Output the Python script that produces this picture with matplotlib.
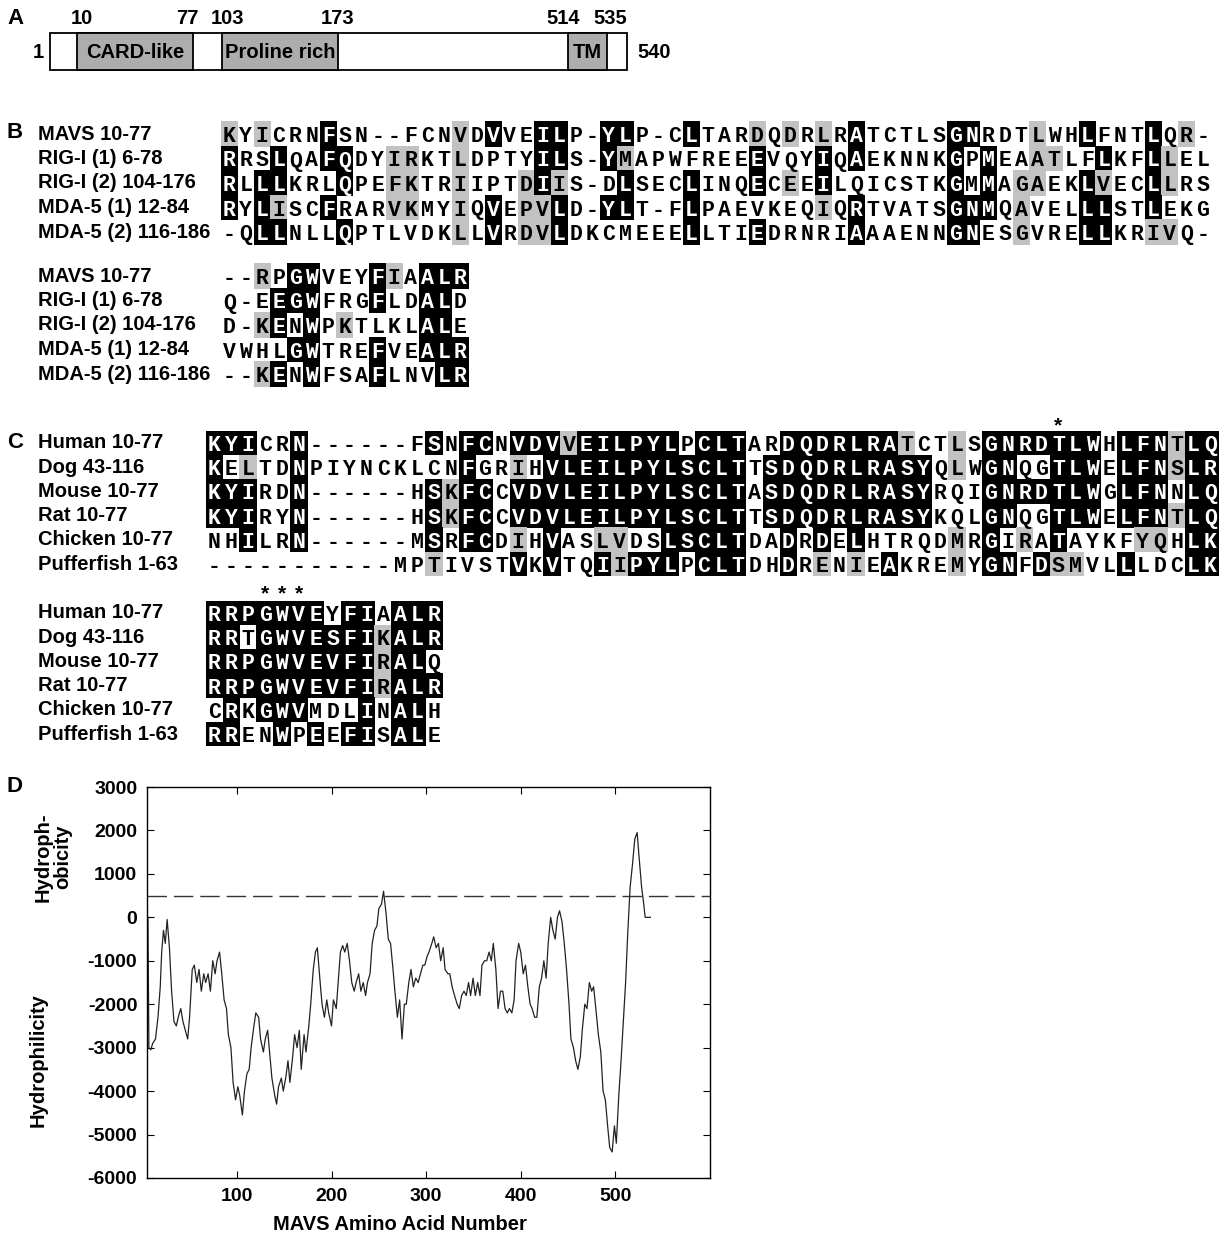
import numpy as np
import matplotlib.pyplot as plt
from matplotlib.patches import Rectangle

plt.rcParams['font.family'] = ['Liberation Sans', 'DejaVu Sans']
plt.rcParams['font.weight'] = 'bold'
plt.rcParams['axes.unicode_minus'] = False

# ---------------- data ----------------
# panel A: MAVS domain map
mavs_len = 540
dom_names = ['CARD-like', 'Proline rich', 'TM']
dom_start = [10, 103, 514]
dom_end = [77, 173, 535]

# panel B: MAVS vs RIG-I / MDA-5 CARDs
b_names = ['MAVS 10-77', 'RIG-I (1) 6-78', 'RIG-I (2) 104-176',
           'MDA-5 (1) 12-84', 'MDA-5 (2) 116-186']
b_seq1 = ['KYICRNFSN--FCNVDVVEILP-YLP-CLTARDQDRLRATCTLSGNRDTLWHLFNTLQR-',
          'RRSLQAFQDYIRKTLDPTYILS-YMAPWFREEEVQYIQAEKNNKGPMEAATLFLKFLLEL',
          'RLLLKRLQPEFKTRIIPTDIIS-DLSECLINQECEEILQICSTKGMMAGAEKLVECLLRS',
          'RYLISCFRARVKMYIQVEPVLD-YLT-FLPAEVKEQIQRTVATSGNMQAVELLLSTLEKG',
          '-QLLNLLQPTLVDKLLVRDVLDKCMEEELLTIEDRNRIAAAENNGNESGVRELLKRIVQ-']
# k = identical (black), g = similar (grey), . = none
b_shade1 = ['g.g...k.......g.k..kk..kk...k...g.g.g.k.....kk...g..k...k.g.',
            'k..k..kk..gg..g....kk..kg.......k...k.k.....k.k..gg..k..kg..',
            'k.kk...k..gg..g...gkg...k...k...k.g.k.......k.k.gg..kg..kg..',
            'k.kg..k...gg..g.k.ggk..kk...k.......g.k.....kkk.g...kk..k...',
            '..kk...k......g.k.ggk.......k...k.....k.....kk..g...kk..gg..']
b_seq2 = ['--RPGWVEYFIAALR',
          'Q-EEGWFRGFLDALD',
          'D-KENWPKTLKLALE',
          'VWHLGWTREFVEALR',
          '--KENWFSAFLNVLR']
b_shade2 = ['..g.kk...kg.kkk',
            '...kkk...k..kk.',
            '..gk.k.g....kk.',
            '....kk...k..kkk',
            '..gk.k...k...kk']

# panel C: MAVS orthologues
c_names = ['Human 10-77', 'Dog 43-116', 'Mouse 10-77', 'Rat 10-77',
           'Chicken 10-77', 'Pufferfish 1-63']
c_seq1 = ['KYICRN------FSNFCNVDVVEILPYLPCLTARDQDRLRATCTLSGNRDTLWHLFNTLQ',
          'KELTDNPIYNCKLCNFGRIHVLEILPYLSCLTTSDQDRLRASYQLWGNQGTLWELFNSLR',
          'KYIRDN------HSKFCCVDVLEILPYLSCLTASDQDRLRASYRQIGNRDTLWGLFNNLQ',
          'KYIRYN------HSKFCCVDVLEILPYLSCLTTSDQDRLRASYKQLGNQGTLWELFNTLQ',
          'NHILRN------MSRFCDIHVASLVDSLSCLTDADRDELHTRQDMRGIRATAYKFYQHLK',
          '-----------MPTIVSTVKVTQIIPYLPCLTDHDRENIEAKREMYGNFDSMVLLLDCLK']
c_shade1 = ['kkk..k.......k.kk.kkkgkkkkkk.kkk..kkkkkkkg..g.kkkkkkk.kkkgkk',
            'k.g..k.........k..g.kkkkkkkkkkkk.kkkkkkkkkk.g.kk..kkk.kkkgkk',
            'kkk..k.......kgkk.kkkkkkkkkkkkkk.kkkkkkkkkk...kkkkkkk.kkk.kk',
            'kkk..k.......kgkk.kkkkkkkkkkkkkk.kkkkkkkkkk...kk..kkk.kkkgkk',
            '..k..k.......k.kk.g.k..gg..kkkkk..k.k.k.....g.k.g.k....gg.kk',
            '.............g....k.k..kgkkk.kkk..k.g.g.k...g.kk.kgg..k...kk']
c_seq2 = ['RRPGWVEYFIAALR',
          'RRTGWVESFIKALR',
          'RRPGWVEVFIRALQ',
          'RRPGWVEVFIRALR',
          'CRKGWVMDLINALH',
          'RRENWPEEFISALE']
c_shade2 = ['kkkkkkk.kk.kkk',
            'kk.kkkkkkkgkkk',
            'kkkkkkkkkkgkk.',
            'kkkkkkkkkkgkkk',
            '.k.kkk...k.kk.',
            'kk..k.k.kk.kk.']
c_star1 = [50]
c_star2 = [3, 4, 5]

# panel D: hydropathy plot
aa_pos = [6, 7, 9, 11, 14, 16.6, 19, 20.5, 22.4, 24.3, 26.3, 28.7, 31, 33.5, 36, 38,
          40.7, 43, 45.5, 48, 50, 52.8, 55, 57.6, 60, 62.4, 65, 67, 69.6, 72, 74.5,
          77, 79, 81.7, 84, 86.5, 89, 91, 93.7, 96, 98.6, 101, 103, 105.8, 108,
          110.6, 113, 115, 118, 120, 123, 125, 128, 130, 132.5, 135, 137, 140, 142,
          144, 147, 149, 151.6, 154, 156, 159, 161, 163.6, 166, 168, 171, 173, 176,
          178, 180.7, 183, 185, 188, 190, 192.5, 195, 197, 200, 202, 205, 207,
          209.4, 211.8, 214, 216.6, 219, 221.4, 224, 226, 228.7, 231, 233.5, 236,
          238, 240.7, 243, 245.5, 248, 250, 252.8, 255, 257.6, 260, 262.4, 265,
          267, 269.6, 272, 274.5, 277, 279, 281.7, 284, 286.5, 289, 291.6, 294,
          296.6, 298.6, 301, 303, 306, 308, 310.6, 313, 315.4, 318, 320, 323, 325,
          327.5, 330, 332.8, 335, 337.5, 340, 342.4, 344.8, 347, 349.6, 352, 354.5,
          356.9, 359, 361.7, 364, 366.5, 368.9, 371, 373.7, 376, 378.6, 381, 383.4,
          385.8, 388, 390.6, 393, 395, 397.8, 400, 402.6, 405, 407.5, 409.9, 412,
          414.7, 417, 419.6, 422, 424.4, 426.8, 429, 431.6, 434, 436.4, 438.8, 441,
          443.6, 446, 448.4, 451, 453, 455.7, 458, 460.4, 463, 465, 467.7, 470,
          472.5, 474.9, 477, 479.8, 482, 484.6, 487, 489.4, 491.8, 494, 496.6, 499,
          501, 503.6, 506, 508.4, 510.8, 513, 515.6, 518, 520.5, 523, 525, 527.7,
          530, 531.5, 537]
hydro = [0, -3000, -3050, -2900, -2800, -2300, -1600, -800, -300, -600, -50, -700,
         -1700, -2400, -2500, -2300, -2100, -2400, -2600, -2800, -2300, -1200, -1100,
         -1500, -1200, -1700, -1300, -1500, -1300, -1700, -1000, -1300, -1000, -800,
         -1300, -1900, -2100, -2700, -3000, -3800, -4200, -3900, -4100, -4550, -4000,
         -3600, -3500, -3000, -2500, -2200, -2300, -2800, -3100, -2800, -2600, -3200,
         -3700, -4100, -4300, -3900, -3700, -4000, -3700, -3300, -3800, -3200, -2700,
         -3000, -2600, -3500, -2700, -3100, -2500, -2000, -1200, -800, -700, -1500,
         -2000, -2300, -1900, -2200, -2500, -1900, -2100, -1500, -800, -650, -800,
         -600, -1000, -1500, -1700, -1500, -1300, -1700, -1500, -1800, -1500, -1300,
         -600, -300, -200, 200, 300, 600, 100, -500, -600, -1200, -1700, -2300, -1900,
         -2800, -2000, -2000, -1500, -1200, -1600, -1400, -1500, -1300, -1100, -1100,
         -900, -800, -600, -450, -700, -600, -1000, -700, -1200, -1300, -1300, -1600,
         -1800, -2000, -2100, -1800, -1700, -1800, -1500, -1800, -1400, -1800, -1500,
         -1800, -1100, -1000, -1000, -800, -1000, -600, -1200, -2100, -1700, -1700,
         -2100, -2200, -2100, -2200, -1900, -1000, -600, -800, -1300, -1100, -1600,
         -2000, -2100, -2300, -2300, -1600, -1400, -1000, -1400, -600, 0, -300, -500,
         0, 150, -100, -600, -1200, -2000, -2800, -3000, -3300, -3500, -3200, -2600,
         -2000, -2100, -1500, -1700, -1600, -2200, -2700, -3100, -4000, -4200, -4800,
         -5300, -5400, -4800, -5200, -4100, -3300, -2400, -1500, -400, 700, 1200, 1800,
         1950, 1400, 700, 300, 0, 0]
threshold = 500

# ---------------- figure ----------------
W, H = 1232, 1235
fig = plt.figure(figsize=(W / 100, H / 100), dpi=100)
ax = fig.add_axes([0, 0, 1, 1])
ax.set_xlim(0, W)
ax.set_ylim(H, 0)
ax.axis('off')

GREY = '#c2c2c2'
LAB = 14.5
SEQ = dict(family='Liberation Mono', fontsize=15.5, fontweight='bold',
           ha='center', va='center_baseline')


def panel_letter(x, y, s):
    ax.text(x, y, s, fontsize=16, ha='center', va='center')


# ---- A ----
panel_letter(15, 18, 'A')
# schematic, not to scale: anchor residues -> drawing x
anchor_aa = [1, 10, 77, 103, 173, 514, 535, 540]
anchor_px = [50, 77, 193, 222, 338, 568, 607, 627]


def aa_x(a):
    return np.interp(a, anchor_aa, anchor_px)


ax.add_patch(Rectangle((aa_x(1), 33), aa_x(mavs_len) - aa_x(1), 37,
                       fc='white', ec='black', lw=1.3))
start_shift = [5, 5, -5]
end_shift = [-6, 0, 3]
for name, s, e, ds, de in zip(dom_names, dom_start, dom_end, start_shift, end_shift):
    ax.add_patch(Rectangle((aa_x(s), 33), aa_x(e) - aa_x(s), 37,
                           fc='#adadad', ec='black', lw=1.3))
    ax.text((aa_x(s) + aa_x(e)) / 2, 52, name, fontsize=LAB, ha='center', va='center')
    ax.text(aa_x(s) + ds, 18, str(s), fontsize=LAB, ha='center', va='center')
    ax.text(aa_x(e) + de, 18, str(e), fontsize=LAB, ha='center', va='center')
ax.text(aa_x(1) - 12, 52, '1', fontsize=LAB, ha='center', va='center')
ax.text(aa_x(mavs_len) + 10, 52, str(mavs_len), fontsize=LAB, ha='left', va='center')


def draw_block(x0, y0, cw, rh, seqs, shades):
    for r, (seq, sh) in enumerate(zip(seqs, shades)):
        y = y0 + r * rh
        for i, (ch, s) in enumerate(zip(seq, sh)):
            x = x0 + i * cw
            if s == 'k':
                ax.add_patch(Rectangle((x - 0.3, y - rh / 2 - 0.3), cw + 0.6, rh + 0.6,
                                       fc='black', ec='none', lw=0))
            elif s == 'g':
                ax.add_patch(Rectangle((x - 0.3, y - rh / 2 - 0.3), cw + 0.6, rh + 0.6,
                                       fc=GREY, ec='none', lw=0))
            ax.text(x + cw / 2, y, ch, color='white' if s == 'k' else 'black', **SEQ)


def draw_names(x, y0, rh, names):
    for r, n in enumerate(names):
        ax.text(x, y0 + r * rh, n, fontsize=LAB, ha='left', va='center')


# ---- B ----
panel_letter(15, 133, 'B')
rh_b = 24.5
draw_names(38, 134, rh_b, b_names)
draw_block(221, 134, 16.5, rh_b, b_seq1, b_shade1)
draw_names(38, 276, rh_b, b_names)
draw_block(221, 276, 16.5, rh_b, b_seq2, b_shade2)

# ---- C ----
panel_letter(15, 443, 'C')
rh_c = 24.2
cw_c = 16.88
draw_names(38, 443, rh_c, c_names)
draw_block(206, 443, cw_c, rh_c, c_seq1, c_shade1)
for c in c_star1:
    ax.text(206 + (c + 0.5) * cw_c, 426, '*', fontsize=15, ha='center', va='center')
draw_names(38, 613, rh_c, c_names)
draw_block(206, 613, cw_c, rh_c, c_seq2, c_shade2)
for c in c_star2:
    ax.text(206 + (c + 0.5) * cw_c, 594, '*', fontsize=15, ha='center', va='center')

# ---- D ----
panel_letter(15, 787, 'D')
axd = fig.add_axes([147 / W, 1 - 1178 / H, (710 - 147) / W, (1178 - 787) / H])
axd.plot(aa_pos, hydro, color='#222222', lw=0.9)
axd.axhline(threshold, color='#333333', lw=1.0, dashes=(14, 5))
axd.set_xlim(5, 600)
axd.set_ylim(-6000, 3000)
axd.set_xticks([100, 200, 300, 400, 500])
axd.set_yticks(np.arange(-6000, 3001, 1000))
axd.tick_params(direction='in', top=True, right=True, length=5, labelsize=14, pad=7)
for sp in axd.spines.values():
    sp.set_linewidth(1.0)
ax.text(400, 1224, 'MAVS Amino Acid Number', fontsize=14.5, ha='center', va='center')
ax.text(53, 857, 'Hydroph-\nobicity', fontsize=14.5, rotation=90, ha='center',
        va='center', linespacing=1.0)
ax.text(38, 1060, 'Hydrophilicity', fontsize=14.5, rotation=90, ha='center', va='center')

fig.savefig('out.png', dpi=100)
